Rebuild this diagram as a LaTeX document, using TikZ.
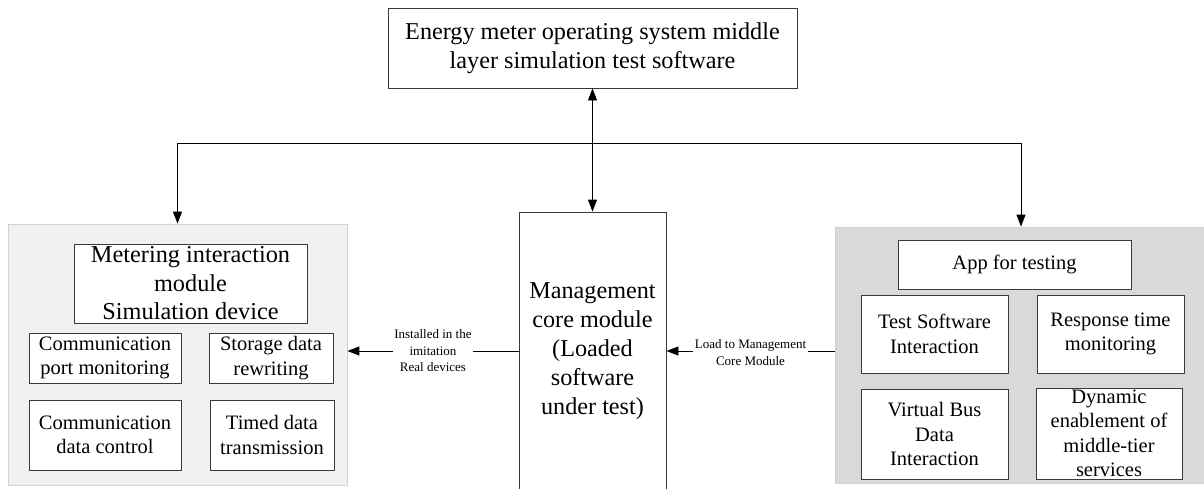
\documentclass[tikz,border=0pt]{standalone}
\usepackage{fontspec}
\setmainfont{Liberation Serif}
\usetikzlibrary{arrows.meta,shadows}
\definecolor{panelA}{HTML}{F1F1F1}
\definecolor{panelAline}{HTML}{D2D2D2}
\definecolor{panelB}{HTML}{D9D9D9}
\definecolor{panelBline}{HTML}{CFCFCF}
\definecolor{boxline}{HTML}{3A3A3A}

\begin{document}
\begin{tikzpicture}[x=1pt,y=-1pt,
  box/.style={draw=boxline, line width=0.9pt, fill=white, align=center,
    inner sep=1pt, text=black,
    drop shadow={shadow xshift=1pt, shadow yshift=-1.2pt, opacity=0.18}},
  big/.style={font=\fontsize{24.2}{28.5}\selectfont},
  mid/.style={font=\fontsize{20.5}{24.5}\selectfont},
  tag/.style={font=\fontsize{13}{16.5}\selectfont, fill=white, align=center,
    inner xsep=1.5pt, inner ysep=0pt},
  conn/.style={line width=0.9pt, draw=black},
  tip/.style={-{Triangle[length=12pt,width=9pt]}},
  bothtips/.style={{Triangle[length=12pt,width=9pt]}-{Triangle[length=12pt,width=9pt]}},
  panelL/.style={fill=panelA, draw=panelAline, line width=0.8pt},
  panelR/.style={fill=panelB, draw=panelBline, line width=0.8pt}
]
\useasboundingbox (0,0) rectangle (1204,488);

% top-level software
\node[box, big, minimum width=409pt, minimum height=80pt] (top) at (592.5,48)
  {Energy meter operating system middle\\layer simulation test software};

% grouping panels
\node[panelL, minimum width=339pt, minimum height=261pt] (lpanel) at (177.5,354.5) {};
\node[panelR, minimum width=372pt, minimum height=256pt] (rpanel) at (1021,355) {};

% management core (runs past the lower edge)
\node[box, font=\fontsize{24.2}{29}\selectfont, minimum width=147pt, minimum height=278pt] (mgmt) at (592.5,351)
  {Management\\core module\\(Loaded\\software\\under test)};

% metering interaction simulation device
\node[box, font=\fontsize{24.3}{28.5}\selectfont, minimum width=233pt, minimum height=79pt] (meter) at (190.5,283.5)
  {Metering interaction\\module\\Simulation device};
\node[box, mid, minimum width=152pt, minimum height=50pt] (cport) at (105,358)
  {Communication\\port monitoring};
\node[box, mid, minimum width=124pt, minimum height=50pt] (store) at (271,358)
  {Storage data\\rewriting};
\node[box, mid, minimum width=152pt, minimum height=70pt] (cdata) at (105,435)
  {Communication\\data control};
\node[box, mid, minimum width=124pt, minimum height=70pt] (timed) at (272,435)
  {Timed data\\transmission};

% app for testing
\node[box, mid, minimum width=233pt, minimum height=49pt] (app) at (1014.5,264.5)
  {App for testing};
\node[box, mid, minimum width=147pt, minimum height=78pt] (tsi) at (934.5,334)
  {Test Software\\Interaction};
\node[box, mid, minimum width=147pt, minimum height=78pt] (rtm) at (1110.5,334)
  {Response time\\monitoring};
\node[box, mid, minimum width=147pt, minimum height=90pt] (vbus) at (934.5,434)
  {Virtual Bus\\Data\\Interaction};
\node[box, mid, minimum width=146pt, minimum height=91pt, inner sep=0pt] (dyn) at (1109,433.5)
  {Dynamic\\enablement of\\middle-tier\\services};

% connectors
\coordinate (hub) at (592.5,143);
\draw[conn, bothtips] (top.south) -- (mgmt.north);
\draw[conn, tip] (hub) -| (lpanel.north);
\draw[conn, tip] (hub) -| (rpanel.north);

\draw[conn, tip] (mgmt.west) -- (mgmt.west -| lpanel.east)
  node[tag, midway] {Installed in the\\imitation\\Real devices};
\draw[conn, tip] (mgmt.east -| rpanel.west) -- (mgmt.east)
  node[tag, midway, yshift=-1.5pt] {Load to Management\\Core Module};
\end{tikzpicture}
\end{document}
